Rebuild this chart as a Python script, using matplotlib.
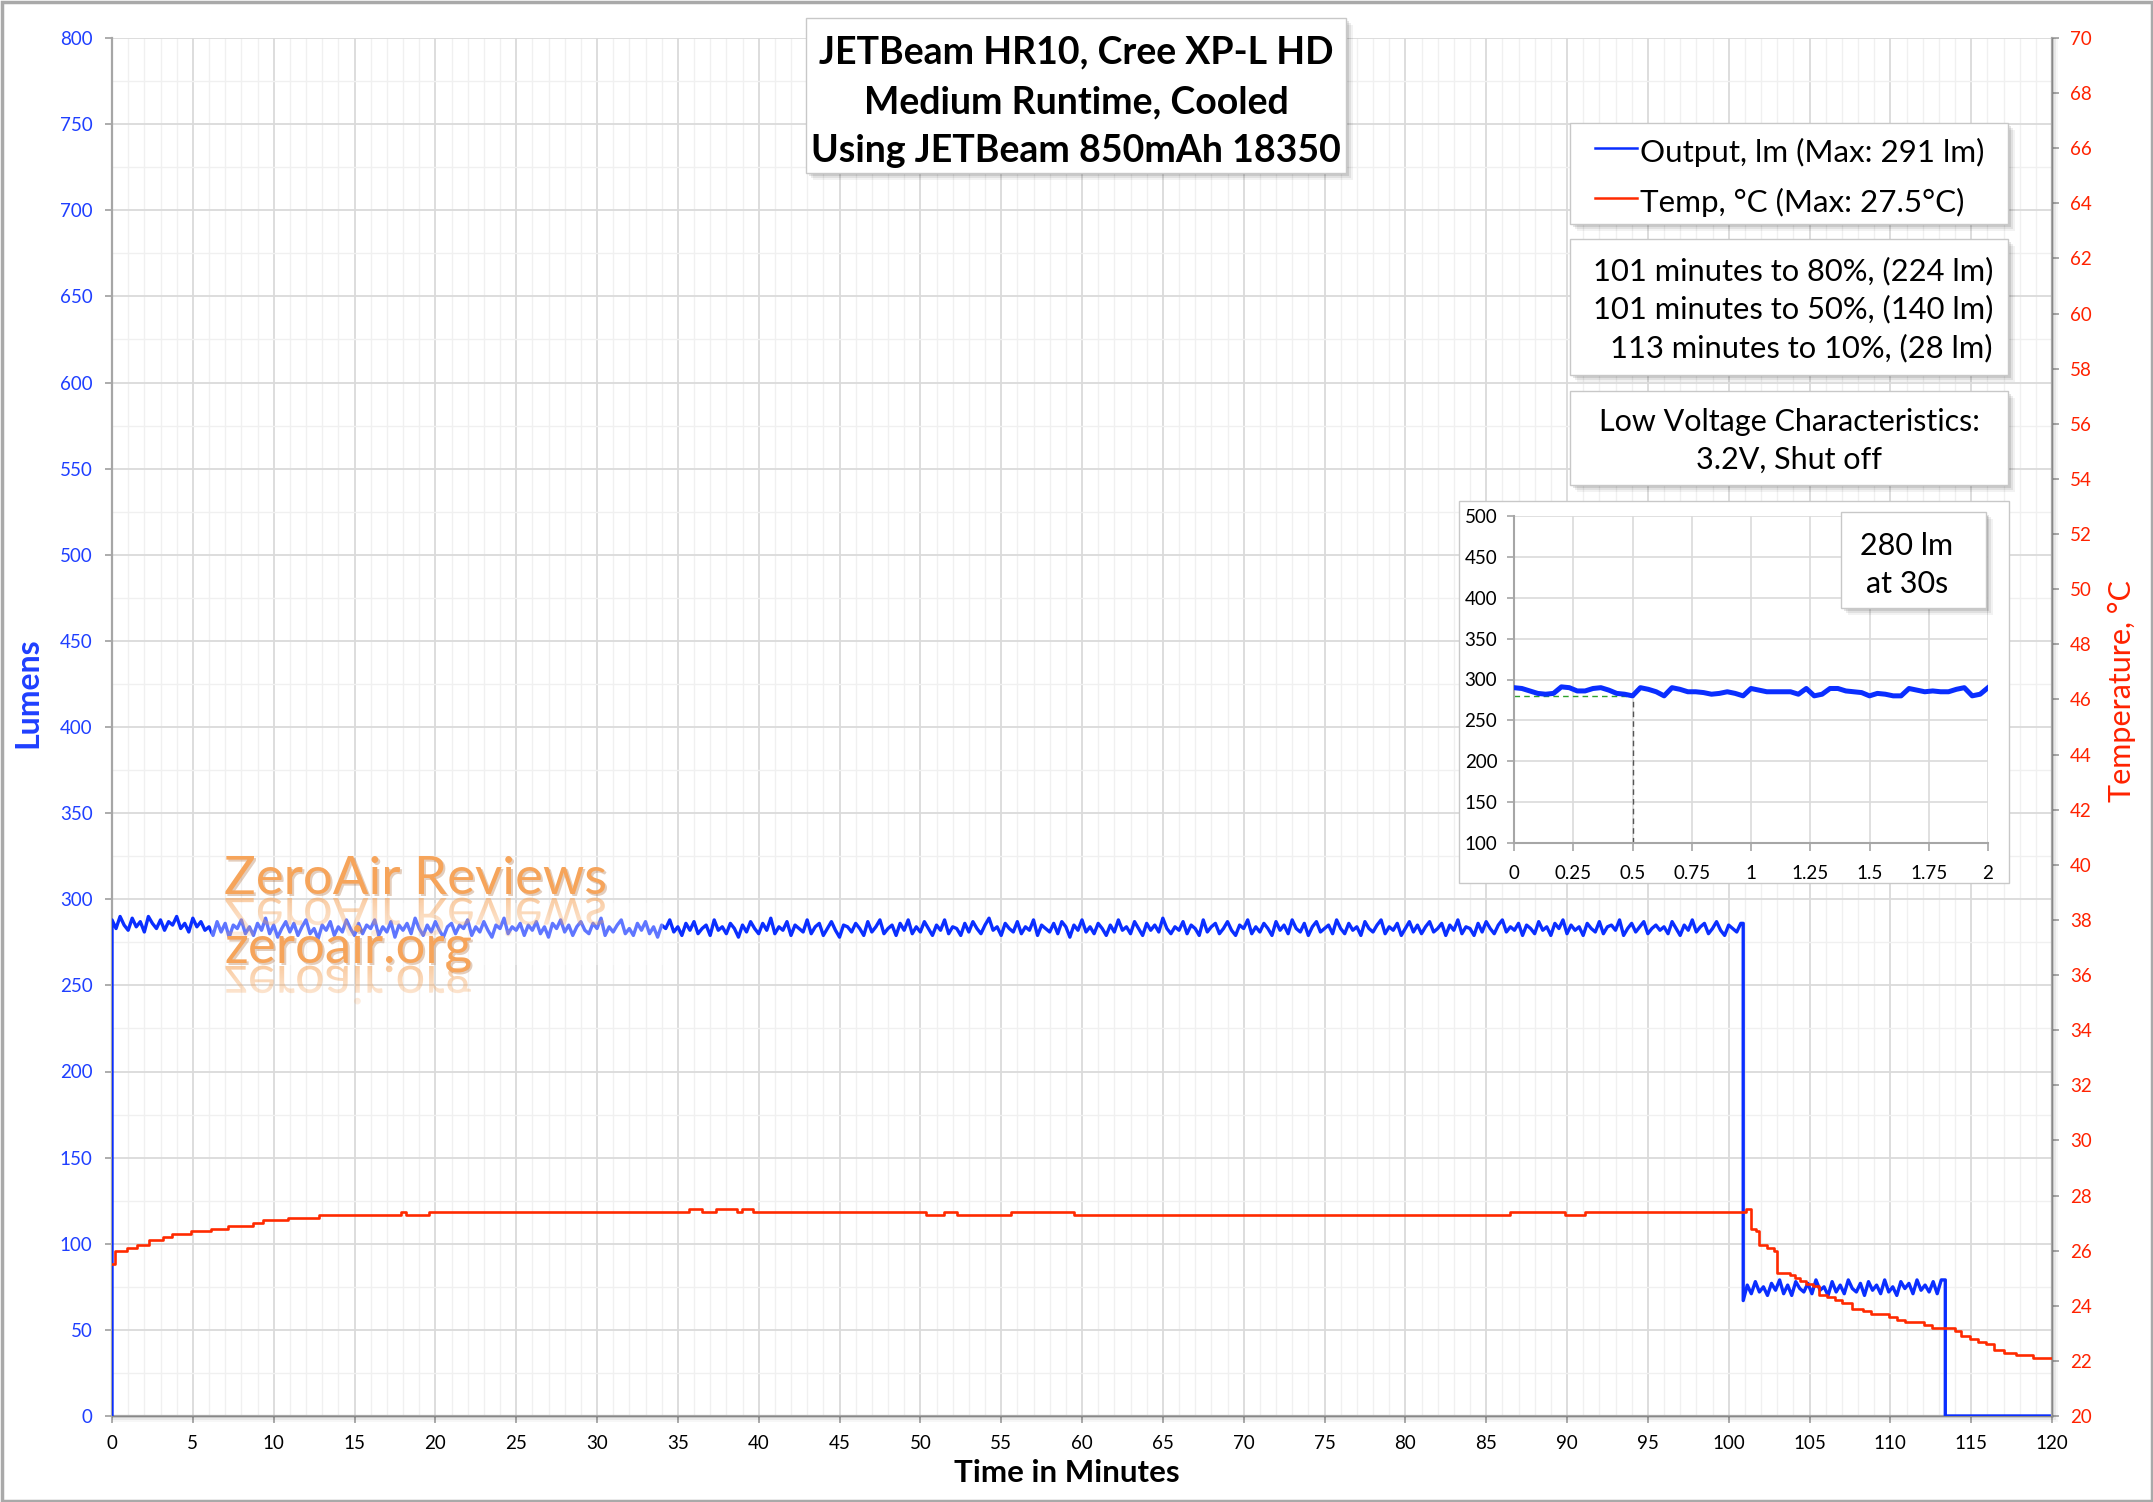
import matplotlib
matplotlib.use("Agg")
import matplotlib.pyplot as plt
import matplotlib.transforms as mtransforms
from matplotlib.font_manager import FontProperties
from matplotlib.patches import PathPatch, Rectangle
from matplotlib.textpath import TextPath
import numpy as np


W_PX, H_PX = 2153, 1502
FONT = "Lato"
BLUE = "#0a2eff"
RED = "#ff2a00"
TICK_BLUE = "#1f3fff"
TICK_RED = "#ff2200"
GRID_MAJOR = "#dadada"
GRID_MINOR = "#f0f0f0"
SPINE = "#a6a6a6"

TITLE_LINES = [
    "JETBeam HR10, Cree XP-L HD",
    "Medium Runtime, Cooled",
    "Using JETBeam 850mAh 18350",
]
LEGEND_LABELS = ["Output, lm (Max: 291 lm)", "Temp, °C (Max: 27.5°C)"]
STATS_LINES = [
    "101 minutes to 80%, (224 lm)",
    "101 minutes to 50%, (140 lm)",
    "113 minutes to 10%, (28 lm)",
]
LVC_LINES = ["Low Voltage Characteristics:", "3.2V, Shut off"]
INSET_NOTE = ["280 lm", "at 30s"]

# output, lumens, one reading every 0.25 min
STEP_MIN = 0.25
OUT_HIGH = [
    288, 283, 290, 285, 282, 289, 284, 287, 281, 290, 286, 283, 288, 282, 287, 285, 290, 283, 286, 281, 289, 284, 287, 282,
    284, 279, 287, 281, 286, 278, 285, 283, 288, 280, 284, 279, 286, 282, 289, 280, 285, 278, 283, 287,
    281, 286, 279, 284, 288, 280, 283, 277, 285, 282, 287, 279, 284, 281, 288, 283, 279, 286, 280, 285,
    283, 288, 279, 284, 281, 287, 278, 285, 282, 286, 280, 289, 283, 279, 285, 281, 287, 282, 278, 284,
    286, 280, 285, 283, 288, 279, 284, 281, 287, 282, 278, 285, 283, 289, 280, 284, 282, 286, 279, 285,
    282, 287, 280, 284, 278, 286, 283, 288, 281, 285, 279, 284, 287, 282, 280, 286, 283, 289, 279, 284,
    281, 285, 288, 280, 283, 279, 286, 282, 287, 280, 284, 278, 285, 283, 288, 281, 284, 279, 286, 282,
    287, 280, 283, 285, 279, 288, 282, 284, 280, 286, 283, 278, 285, 281, 287, 283, 280, 286, 282, 289,
    280, 284, 282, 287, 279, 285, 283, 281, 288, 280, 284, 286, 279, 283, 287, 282, 278, 285, 284, 281,
    286, 283, 279, 287, 281, 284, 288, 280, 283, 285, 279, 286, 282, 288, 280, 284, 281, 287, 283, 279,
    285, 282, 288, 280, 284, 283, 279, 286, 281, 287, 283, 280, 285, 289, 282, 284, 279, 286, 283, 281,
    287, 280, 284, 282, 288, 279, 285, 283, 281, 286, 280, 287, 284, 278, 285, 282, 288, 281, 284, 280,
    286, 283, 279, 285, 281, 288, 282, 284, 280, 287, 283, 279, 286, 282, 285, 281, 289, 283, 280, 284,
    282, 287, 280, 285, 283, 279, 288, 281, 284, 286, 280, 283, 287, 282, 279, 285, 283, 288, 280, 284,
    281, 286, 283, 279, 287, 282, 285, 280, 288, 283, 281, 286, 279, 284, 287, 281, 283, 285, 280, 288,
    283, 280, 286, 282, 284, 279, 287, 283, 281, 285, 288, 280, 284, 282, 286, 279, 283, 287, 281, 285,
    280, 284, 287, 281, 283, 286, 279, 285, 282, 288, 280, 284, 283, 279, 286, 281, 287, 283, 280, 285,
    288, 281, 284, 282, 286, 279, 285, 283, 280, 287, 282, 284, 279, 286, 283, 288, 280, 285, 282, 284,
    279, 286, 283, 281, 287, 280, 284, 285, 282, 288, 279, 283, 286, 281, 284, 287, 280, 283, 285, 282,
    284, 280, 287, 283, 279, 285, 282, 288, 281, 284, 286, 280, 283, 287, 282, 279, 285, 283, 281, 286,
]
OUT_LOW = [
    67, 76, 71, 78, 72, 75, 70, 77, 73, 79, 71, 76, 70, 78, 74, 72, 77, 71, 79, 73, 75, 70, 78, 72, 76,
    71, 79, 74, 72, 77, 70, 78, 73, 76, 71, 79, 72, 75, 70, 78, 74, 77, 71, 79, 73, 76, 72, 78, 71, 79,
]
DROP1_MIN = 100.9
DROP2_MIN = 113.4
END_MIN = 120.0

# temperature steps (minute where the reading changes, new value)
TEMP_TIMES = [
    0, 0.17, 0.91, 1.53, 2.31, 3.13, 3.69, 4.87, 6.12, 7.19, 8.70, 9.36, 10.9, 12.8,
    17.9, 18.2, 19.6, 35.66, 36.47, 37.35, 38.64, 38.96, 39.64, 50.34, 51.45, 52.26,
    55.58, 59.51, 86.5, 89.9, 91.13, 101.1, 101.4, 101.7, 101.9, 102.4, 102.8, 103.0,
    103.8, 104.1, 104.4, 104.8, 105.2, 105.6, 106.1, 106.6, 107.0, 107.6, 108.3, 108.8,
    109.9, 110.4, 110.9, 112.1, 112.6, 114.0, 114.4, 114.9, 115.4, 115.9, 116.4, 117.0,
    117.8, 118.8, 120.0,
]
TEMP_VALUES = [
    25.5, 26.0, 26.1, 26.2, 26.4, 26.5, 26.6, 26.7, 26.8, 26.9, 27.0, 27.1, 27.2, 27.3,
    27.4, 27.3, 27.4, 27.5, 27.4, 27.5, 27.4, 27.5, 27.4, 27.3, 27.4, 27.3,
    27.4, 27.3, 27.4, 27.3, 27.4, 27.5, 26.8, 26.7, 26.2, 26.1, 26.0, 25.2,
    25.1, 25.0, 24.9, 24.8, 24.7, 24.4, 24.3, 24.2, 24.1, 23.9, 23.8, 23.7,
    23.6, 23.5, 23.4, 23.3, 23.2, 23.1, 22.9, 22.8, 22.7, 22.6, 22.4, 22.3,
    22.2, 22.1, 22.1,
]

# inset: first two minutes, one reading every 2 s
INSET_STEP_MIN = 1 / 30
INSET_OUT = [
    290, 289, 286, 283, 282, 283, 291, 290, 286, 286, 289, 290, 287, 283, 282, 280,
    290, 288, 285, 280, 290, 288, 285, 285, 284, 282, 283, 285, 283, 280, 289, 287,
    285, 285, 285, 285, 282, 289, 280, 282, 289, 289, 286, 285, 284, 280, 283, 282,
    280, 280, 289, 287, 285, 286, 285, 285, 288, 290, 280, 282, 290,
]
INSET_MARK_MIN = 0.5
INSET_MARK_LM = 280
INSET_XTICKS = [0, 0.25, 0.5, 0.75, 1, 1.25, 1.5, 1.75, 2]
INSET_YTICKS = [100, 150, 200, 250, 300, 350, 400, 450, 500]

WATERMARK = ["ZeroAir Reviews", "zeroair.org"]


def px_box(x0, y0, x1, y1):
    # pixel box (from top-left) -> figure fraction [l, b, w, h]
    return [x0 / W_PX, 1 - y1 / H_PX, (x1 - x0) / W_PX, (y1 - y0) / H_PX]


def draw_box(ax, x0, y0, x1, y1, z=5, transform=None, shadow=True):
    tr = transform if transform is not None else ax.transData
    if shadow:
        for k, a in [(7, 0.05), (5, 0.07), (3, 0.10)]:
            ax.add_patch(Rectangle((x0 + k, y0 + k), x1 - x0, y1 - y0, facecolor="#000000",
                                   edgecolor="none", alpha=a, zorder=z, transform=tr, clip_on=False))
    ax.add_patch(Rectangle((x0, y0), x1 - x0, y1 - y0, facecolor="white", edgecolor="#c8c8c8",
                           lw=1.0, zorder=z + 0.1, transform=tr, clip_on=False))


def main():
    plt.rcParams["font.family"] = [FONT, "DejaVu Sans"]
    fig = plt.figure(figsize=(W_PX / 100, H_PX / 100), dpi=100)

    # ---- main chart ----
    ax = fig.add_axes(px_box(112, 38, 2052, 1416))
    ax.set_xlim(0, 120)
    ax.set_ylim(0, 800)
    ax.set_xticks(np.arange(0, 121, 5))
    ax.set_xticks(np.arange(0, 121, 1), minor=True)
    ax.set_yticks(np.arange(0, 801, 50))
    ax.set_yticks(np.arange(0, 801, 25), minor=True)
    ax.grid(which="minor", color=GRID_MINOR, lw=1.0)
    ax.grid(which="major", color=GRID_MAJOR, lw=1.3)
    ax.set_axisbelow(True)
    for side in ["top", "right"]:
        ax.spines[side].set_visible(False)
    for side in ["left", "bottom"]:
        ax.spines[side].set_color(SPINE)
        ax.spines[side].set_linewidth(1.6)
    ax.tick_params(which="major", direction="out", length=5, width=1.3, color=SPINE,
                   labelsize=13.5, pad=9)
    ax.tick_params(which="minor", length=0)
    ax.tick_params(axis="y", labelcolor=TICK_BLUE)

    t_out = [0.0] + list(np.arange(len(OUT_HIGH)) * STEP_MIN)
    v_out = [0] + OUT_HIGH
    t_out += [DROP1_MIN] + list(DROP1_MIN + np.arange(len(OUT_LOW)) * STEP_MIN)
    v_out += [OUT_HIGH[-1]] + OUT_LOW
    t_out += [DROP2_MIN, DROP2_MIN, END_MIN]
    v_out += [OUT_LOW[-1], 0, 0]
    ax.plot(t_out, v_out, color=BLUE, lw=2.4, zorder=3)

    ax.set_xlabel("Time in Minutes", fontsize=22.5, fontweight="bold")
    ax.xaxis.set_label_coords(0.492, -0.031)
    ax.set_ylabel("Lumens", fontsize=23, fontweight="bold", color=TICK_BLUE)
    ax.yaxis.set_label_coords(-0.036, 0.525)

    ax2 = ax.twinx()
    ax2.set_ylim(20, 70)
    ax2.set_yticks(np.arange(20, 71, 2))
    for side in ["top", "left", "bottom"]:
        ax2.spines[side].set_visible(False)
    ax2.spines["right"].set_color(SPINE)
    ax2.spines["right"].set_linewidth(1.6)
    ax2.tick_params(direction="out", length=5, width=1.3, color=SPINE, labelsize=13.5,
                    pad=8, labelcolor=TICK_RED)
    ax2.plot(TEMP_TIMES, TEMP_VALUES, color=RED, lw=1.9, drawstyle="steps-post", zorder=3)
    ax2.set_ylabel("Temperature, °C", fontsize=22, color=TICK_RED)
    ax2.yaxis.set_label_coords(1.029, 0.526)

    # ---- overlay in pixel coordinates (y down) ----
    ov = fig.add_axes([0, 0, 1, 1])
    ov.set_xlim(0, W_PX)
    ov.set_ylim(H_PX, 0)
    ov.axis("off")

    # chart area border
    ov.add_patch(Rectangle((1.5, 1.5), W_PX - 3, H_PX - 3, facecolor="none", edgecolor="#a9a9a9", lw=2.5))
    # soft shadow along the bottom / right axis lines
    for k, a in [(2, 0.10), (4, 0.06), (6, 0.03)]:
        ov.add_patch(Rectangle((112, 1416), 1940 + k, k, facecolor="black", edgecolor="none", alpha=a))
        ov.add_patch(Rectangle((2052, 38), k, 1378, facecolor="black", edgecolor="none", alpha=a))

    # watermark
    ax.add_patch(Rectangle((6.1, 262), 28.0, 36, facecolor="white", edgecolor="none", alpha=0.35, zorder=4))
    wm_color = "#f6a45a"
    wm_fs = 38
    k_pt = 100 / 72
    for text, x, base in [(WATERMARK[0], 224, 894), (WATERMARK[1], 224, 962)]:
        ov.text(x + 2, base + 2, text, fontsize=wm_fs, color="#b07040", alpha=0.35, va="baseline", zorder=6)
        ov.text(x, base, text, fontsize=wm_fs, color=wm_color, va="baseline", zorder=6.1)
        path = TextPath((0, 0), text, size=wm_fs, prop=FontProperties(family=FONT))
        tr = mtransforms.Affine2D().scale(k_pt).translate(x, base + 4) + ov.transData
        patch = PathPatch(path, facecolor="none", edgecolor="none", transform=tr)
        ov.add_patch(patch)
        grad = np.zeros((60, 2, 4))
        grad[..., :3] = matplotlib.colors.to_rgb(wm_color)
        grad[..., 3] = np.linspace(0.6, 0.0, 60)[:, None]
        im = ov.imshow(grad, extent=[x, x + 430, base + 60, base], aspect="auto", zorder=5.9,
                       interpolation="bilinear")
        im.set_clip_path(patch)
    ov.set_xlim(0, W_PX)
    ov.set_ylim(H_PX, 0)

    # title box
    draw_box(ov, 806, 18, 1346, 173, z=7)
    for line, base in zip(TITLE_LINES, [63, 113, 162]):
        ov.text(1076, base, line, fontsize=27, fontweight="bold", ha="center", va="baseline", zorder=8)

    # legend box
    draw_box(ov, 1570, 123, 2008, 224, z=7)
    for label, color, base in zip(LEGEND_LABELS, [BLUE, RED], [162, 212]):
        ov.plot([1595, 1637], [base - 14, base - 14], color=color, lw=1.8, zorder=8)
        ov.text(1640, base, label, fontsize=22.6, ha="left", va="baseline", zorder=8)

    # runtime stats box
    draw_box(ov, 1570, 239, 2008, 375, z=7)
    for line, base in zip(STATS_LINES, [280, 318, 357]):
        ov.text(1993, base, line, fontsize=22.2, ha="right", va="baseline", zorder=8)

    # low voltage box
    draw_box(ov, 1570, 391, 2008, 485, z=7)
    for line, base in zip(LVC_LINES, [431, 469]):
        ov.text(1789, base, line, fontsize=22, ha="center", va="baseline", zorder=8)

    # inset frame
    draw_box(ov, 1459, 501, 2009, 883, z=7, shadow=False)
    ov.set_xlim(0, W_PX)
    ov.set_ylim(H_PX, 0)

    # ---- inset chart ----
    ins = fig.add_axes(px_box(1514, 516, 1988, 843))
    ins.set_xlim(0, 2)
    ins.set_ylim(100, 500)
    ins.set_xticks(INSET_XTICKS, [f"{v:g}" for v in INSET_XTICKS])
    ins.set_yticks(INSET_YTICKS)
    ins.grid(color=GRID_MAJOR, lw=1.2)
    ins.set_axisbelow(True)
    for side in ["top", "right"]:
        ins.spines[side].set_visible(False)
    for side in ["left", "bottom"]:
        ins.spines[side].set_color(SPINE)
        ins.spines[side].set_linewidth(1.5)
    ins.tick_params(axis="y", direction="out", length=5, width=1.2, color=SPINE, labelsize=13.5, pad=7)
    ins.tick_params(axis="x", direction="out", length=6, width=1.2, color=SPINE, labelsize=13.5, pad=10)
    t_ins = np.arange(len(INSET_OUT)) * INSET_STEP_MIN
    ins.plot(t_ins, INSET_OUT, color=BLUE, lw=3.6, zorder=3)
    ins.plot([0, INSET_MARK_MIN], [INSET_MARK_LM, INSET_MARK_LM], color="#2ca02c", lw=1.0,
             ls=(0, (4, 3)), zorder=2)
    ins.plot([INSET_MARK_MIN, INSET_MARK_MIN], [100, INSET_MARK_LM], color="#555555", lw=1.0,
             ls=(0, (4, 3)), zorder=2)

    draw_box(ins, 1841, 512, 1986, 608, z=6, transform=ov.transData)
    for line, base in zip(INSET_NOTE, [555, 593]):
        ins.text(1907, base, line, fontsize=22, ha="center", va="baseline", zorder=8,
                 transform=ov.transData)

    fig.savefig("out.png", dpi=100)


if __name__ == "__main__":
    main()
